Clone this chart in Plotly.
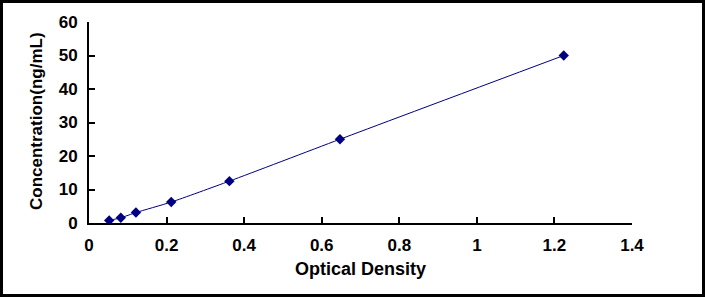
import plotly.graph_objects as go

od = [0.052, 0.082, 0.121, 0.212, 0.362, 0.647, 1.224]
conc = [0.78, 1.56, 3.12, 6.25, 12.5, 25, 50]
x_ticks = [0, 0.2, 0.4, 0.6, 0.8, 1, 1.2, 1.4]
y_ticks = [0, 10, 20, 30, 40, 50, 60]

NAVY = "#000080"
FONT = "Arial, Liberation Sans, sans-serif"

fig = go.Figure()
fig.add_trace(go.Scatter(
    x=od, y=conc, mode="lines+markers",
    line=dict(color=NAVY, width=1, shape="spline", smoothing=0.6),
    marker=dict(symbol="diamond", size=8, color=NAVY),
    showlegend=False,
))

W, H = 705, 297
L, R, T, B = 89, 73, 22, 74
pw, ph = W - L - R, H - T - B

tf = dict(family=FONT, size=17, color="black", weight="bold")

fig.update_layout(
    width=W, height=H,
    margin=dict(l=L, r=R, t=T, b=B),
    paper_bgcolor="white", plot_bgcolor="white",
    font=dict(family=FONT, size=17, color="black"),
    xaxis=dict(range=[0, 1.4], tickvals=x_ticks, showgrid=False, zeroline=False,
               showline=True, linecolor="black", linewidth=2,
               ticks="inside", ticklen=6, tickwidth=2, tickcolor="black",
               tickfont=tf, ticklabelstandoff=6),
    yaxis=dict(range=[0, 60], tickvals=y_ticks, showgrid=False, zeroline=False,
               showline=True, linecolor="black", linewidth=2,
               ticks="inside", ticklen=6, tickwidth=2, tickcolor="black",
               tickfont=tf, ticklabelstandoff=6),
)

fig.add_annotation(text="<b>Optical Density</b>", xref="paper", yref="paper",
                   x=(360 - L) / pw, y=(T + ph - 269) / ph, showarrow=False,
                   font=dict(family=FONT, size=18, color="black"),
                   xanchor="center", yanchor="middle")
fig.add_annotation(text="<b>Concentration(ng/mL)</b>", xref="paper", yref="paper",
                   x=(36 - L) / pw, y=(T + ph - 121) / ph, showarrow=False,
                   textangle=-90,
                   font=dict(family=FONT, size=17, color="black"),
                   xanchor="center", yanchor="middle")

fig.add_shape(type="rect", xref="paper", yref="paper",
              x0=(1.5 - L) / pw, x1=(703.5 - L) / pw,
              y0=(T + ph - 295.5) / ph, y1=(T + ph - 1.5) / ph,
              line=dict(color="black", width=3), fillcolor="rgba(0,0,0,0)")

fig.write_html("out.html")
